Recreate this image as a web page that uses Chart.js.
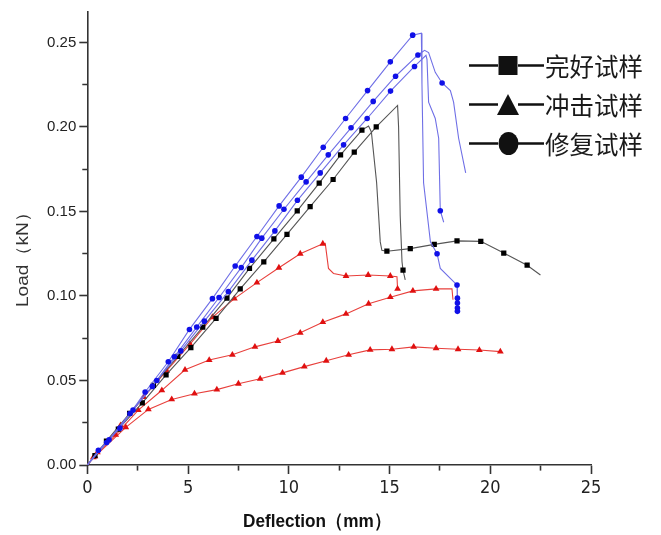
<!DOCTYPE html>
<html>
<head>
<meta charset="utf-8">
<script src="https://cdn.jsdelivr.net/npm/chart.js@4.4.1/dist/chart.umd.min.js"></script>
<style>
html, body { margin: 0; padding: 0; background: #fff; }
canvas { display: block; }
</style>
</head>
<body>
<canvas id="chart" width="661" height="535"></canvas>
<script>
// axis text
const xTitle = 'Deflection（mm）';
const yTitle = 'Load（kN）';
const legendLabels = ['完好试样', '冲击试样', '修复试样'];

// 修复试样 (blue, circles) - three specimens
const blueA_up = [[0.55,0.0087],[1.62,0.0218],[2.87,0.0432],[4.02,0.0611],[5.07,0.0802],[6.21,0.0984],[7.34,0.1177],[8.42,0.1352],[9.52,0.1533],[10.62,0.1703],[11.71,0.188],[12.82,0.205],[13.91,0.2215],[15.04,0.2385],[16.15,0.2543]];
const blueA_drop = [[16.58,0.2555],[16.61,0.2254],[16.69,0.167],[17.03,0.132]];
const blueA_mid = [[17.36,0.125]];
const blueA_drop2 = [[17.52,0.1163],[18.18,0.1085]];
const blueA_end = [[18.35,0.1065],[18.37,0.0987],[18.37,0.0958],[18.37,0.0929],[18.37,0.0909]];

const blueB_up = [[0.96,0.0133],[2.12,0.0305],[3.23,0.0465],[4.32,0.064],[5.43,0.0816],[6.54,0.0991],[7.64,0.1168],[8.66,0.1342],[9.76,0.1513],[10.86,0.1675],[11.96,0.1835],[13.09,0.1995],[14.19,0.2151],[15.3,0.23],[16.41,0.2426]];
const blueB_drop = [[16.74,0.2453],[16.94,0.244],[17.27,0.2323]];
const blueB_mid = [[17.61,0.226]];
const blueB_drop2 = [[18.02,0.2215],[18.18,0.2147],[18.43,0.1933],[18.78,0.1728]];

const blueC_up = [[1.08,0.0149],[2.27,0.0325],[3.45,0.05],[4.64,0.0675],[5.81,0.0851],[7.0,0.1026],[8.17,0.1212],[9.31,0.1385],[10.43,0.1566],[11.56,0.1728],[12.72,0.1894],[13.89,0.205],[15.05,0.2212],[16.24,0.2358]];
const blueC_drop = [[16.81,0.2424],[16.86,0.24],[16.94,0.2147],[17.27,0.205],[17.44,0.1933]];
const blueC_mid = [[17.52,0.1504]];
const blueC_drop2 = [[17.69,0.1436]];

// 完好试样 (black, squares) - two specimens
const blackA_up = [[0.95,0.0142],[2.1,0.0305],[3.28,0.0471],[4.49,0.0642],[5.73,0.0816],[6.93,0.0987],[8.05,0.1163],[9.26,0.1338],[10.42,0.1504],[11.51,0.1668],[12.57,0.1835],[13.63,0.1981]];
const blackA_drop = [[13.96,0.2005],[14.1,0.197],[14.36,0.167],[14.54,0.132],[14.62,0.127]];
const blackA_flat = [[14.87,0.1265],[16.03,0.128],[17.22,0.1305],[18.35,0.1326],[19.53,0.1323],[20.67,0.1254],[21.83,0.1182]];
const blackA_tail = [[22.49,0.1124]];

const blackB_up = [[0.38,0.0056],[1.54,0.0212],[2.73,0.0367],[3.91,0.0533],[5.14,0.0695],[6.39,0.0867],[7.59,0.1042],[8.76,0.1202],[9.91,0.1364],[11.06,0.1529],[12.2,0.1689],[13.25,0.1851],[14.34,0.2001]];
const blackB_drop = [[15.4,0.2127],[15.45,0.2],[15.53,0.1475],[15.62,0.1202]];
const blackB_mid = [[15.67,0.1153]];
const blackB_tail = [[15.78,0.1095]];

// 冲击试样 (red, triangles) - three specimens
const redA_up = [[0.5,0.0075],[1.65,0.0235],[2.8,0.0402],[3.94,0.0558],[5.1,0.0715],[6.21,0.0874],[7.3,0.0984],[8.42,0.1079],[9.51,0.1167],[10.57,0.125],[11.69,0.1309]];
const redA_drop = [[11.81,0.1311],[11.97,0.1163],[12.22,0.1133]];
const redA_flat = [[12.84,0.1118],[13.94,0.1124],[15.04,0.1118]];
const redA_drop2 = [[15.37,0.1114]];
const redA_end = [[15.4,0.1042]];

const redB_up = [[0.3,0.0045],[1.41,0.0178],[2.53,0.0325],[3.7,0.0442],[4.85,0.0563],[6.05,0.0621],[7.2,0.0652],[8.32,0.0699],[9.46,0.0734],[10.57,0.0782],[11.69,0.0845],[12.84,0.0894],[13.96,0.0954],[15.04,0.0993],[16.16,0.103],[17.31,0.1042]];
const redB_tail = [[18.1,0.1042],[18.15,0.0978]];

const redC_up = [[0.38,0.0051],[1.91,0.0223],[3.03,0.0329],[4.19,0.0388],[5.32,0.0422],[6.43,0.0446],[7.5,0.0481],[8.58,0.051],[9.69,0.0545],[10.77,0.0582],[11.86,0.0617],[12.97,0.0652],[14.04,0.0681],[15.12,0.0685],[16.2,0.0699],[17.31,0.0691],[18.4,0.0685],[19.46,0.068],[20.5,0.0671]];

const origin = [[0, 0]];

function xy(list) { return list.map(p => ({x: p[0], y: p[1]})); }

const BLUE_LINE = '#6f6fe6', BLUE_MARK = '#1010e8';
const BLACK_LINE = '#555555', BLACK_MARK = '#000000';
const RED_LINE = '#e8403c', RED_MARK = '#e01010';

function lineSet(pts, color) {
  return { data: xy(pts), showLine: true, borderColor: color, borderWidth: 1.1, pointRadius: 0, tension: 0 };
}
function markSet(pts, color, style, r) {
  return { data: xy(pts), showLine: false, pointStyle: style, pointRadius: r, backgroundColor: color, borderColor: color, borderWidth: 0 };
}

// first datasets are painted last (on top)
const datasets = [
  markSet([].concat(blueA_up, blueA_mid, blueA_end), BLUE_MARK, 'circle', 2.8),
  markSet([].concat(blueB_up, blueB_mid), BLUE_MARK, 'circle', 2.8),
  markSet([].concat(blueC_up, blueC_mid), BLUE_MARK, 'circle', 2.8),
  lineSet([].concat(origin, blueA_up, blueA_drop, blueA_mid, blueA_drop2, blueA_end), BLUE_LINE),
  lineSet([].concat(origin, blueB_up, blueB_drop, blueB_mid, blueB_drop2), BLUE_LINE),
  lineSet([].concat(origin, blueC_up, blueC_drop, blueC_mid, blueC_drop2), BLUE_LINE),
  markSet([].concat(blackA_up, blackA_flat), BLACK_MARK, 'rect', 3.7),
  markSet([].concat(blackB_up, blackB_mid), BLACK_MARK, 'rect', 3.7),
  lineSet([].concat(origin, blackA_up, blackA_drop, blackA_flat, blackA_tail), BLACK_LINE),
  lineSet([].concat(origin, blackB_up, blackB_drop, blackB_mid, blackB_tail), BLACK_LINE),
  markSet([].concat(redA_up, redA_flat, redA_end), RED_MARK, 'triangle', 3.9),
  markSet(redB_up, RED_MARK, 'triangle', 3.9),
  markSet(redC_up, RED_MARK, 'triangle', 3.9),
  lineSet([].concat(origin, redA_up, redA_drop, redA_flat, redA_drop2, redA_end), RED_LINE),
  lineSet([].concat(origin, redB_up, redB_tail), RED_LINE),
  lineSet([].concat(origin, redC_up), RED_LINE)
];

// draw text squeezed to a given width
function fitText(ctx, text, cx, cy, width) {
  const w = ctx.measureText(text).width;
  ctx.save();
  ctx.translate(cx, cy);
  ctx.scale(width / w, 1);
  ctx.fillText(text, 0, 0);
  ctx.restore();
}

const extras = {
  id: 'extras',
  afterDraw(chart) {
    const ctx = chart.ctx;
    ctx.save();
    ctx.textAlign = 'center';
    ctx.textBaseline = 'middle';
    // y title
    ctx.save();
    ctx.translate(23, 255);
    ctx.rotate(-Math.PI / 2);
    ctx.fillStyle = '#333';
    ctx.font = '17px "Liberation Sans", Arial, sans-serif';
    fitText(ctx, yTitle, 0, 0, 104);
    ctx.restore();
    // x title
    ctx.fillStyle = '#111';
    ctx.font = 'bold 19px "Liberation Sans", Arial, sans-serif';
    fitText(ctx, xTitle, 317, 522, 148);

    // legend
    const rows = [65.5, 104.5, 143.5];
    const styles = ['rect', 'triangle', 'circle'];
    ctx.strokeStyle = '#111';
    ctx.fillStyle = '#111';
    ctx.lineWidth = 2.6;
    rows.forEach((y, i) => {
      ctx.beginPath();
      ctx.moveTo(469, y); ctx.lineTo(498, y);
      ctx.moveTo(518, y); ctx.lineTo(544, y);
      ctx.stroke();
      ctx.beginPath();
      if (styles[i] === 'rect') {
        ctx.rect(498.5, y - 9.5, 19, 19);
      } else if (styles[i] === 'triangle') {
        ctx.moveTo(508, y - 10.5); ctx.lineTo(519, y + 10.5); ctx.lineTo(497, y + 10.5); ctx.closePath();
      } else {
        ctx.ellipse(508.5, y, 10, 11.5, 0, 0, Math.PI * 2);
      }
      ctx.fill();
      ctx.textAlign = 'left';
      ctx.font = '25px "Noto Sans CJK SC", sans-serif';
      ctx.fillStyle = '#1a1a1a';
      fitText(ctx, legendLabels[i], 545, y + 1, 98);
      ctx.fillStyle = '#111';
    });
    ctx.restore();
  }
};

function isMajor(v, step) {
  return Math.abs(v / step - Math.round(v / step)) < 1e-6;
}

new Chart(document.getElementById('chart'), {
  type: 'scatter',
  data: { datasets: datasets },
  options: {
    responsive: false,
    animation: false,
    devicePixelRatio: 1,
    layout: { padding: { left: 0, right: 70, top: 7, bottom: 0 } },
    plugins: { legend: { display: false }, tooltip: { enabled: false } },
    scales: {
      x: {
        type: 'linear', min: 0, max: 25,
        afterFit(scale) { scale.height = 70; },
        border: { display: true, color: '#333', width: 1.6 },
        grid: {
          drawOnChartArea: false, drawTicks: true, tickLength: 9,
          tickColor: '#333', tickWidth: 1.6,
          tickBorderDash: ctx => isMajor(ctx.tick.value, 5) ? [] : [5, 30]
        },
        ticks: {
          stepSize: 2.5, autoSkip: false, maxRotation: 0, padding: 4, color: '#222',
          font: { family: '"DejaVu Sans Condensed", "Liberation Sans", Arial, sans-serif', size: 18 },
          callback: v => isMajor(v, 5) ? String(v) : ''
        }
      },
      y: {
        type: 'linear', min: 0, max: 0.268,
        afterFit(scale) { scale.width = 87.3; },
        border: { display: true, color: '#333', width: 1.6 },
        grid: {
          drawOnChartArea: false, drawTicks: true, tickLength: 8,
          tickColor: '#333', tickWidth: 1.6,
          tickBorderDash: ctx => isMajor(ctx.tick.value, 0.05) ? [] : [0, 3, 5, 30]
        },
        ticks: {
          stepSize: 0.025, autoSkip: false, includeBounds: false, padding: 3, color: '#222',
          font: { family: '"Liberation Sans", Arial, sans-serif', size: 15 },
          callback: v => isMajor(v, 0.05) ? v.toFixed(2) : ''
        }
      }
    }
  },
  plugins: [extras]
});
</script>
</body>
</html>
